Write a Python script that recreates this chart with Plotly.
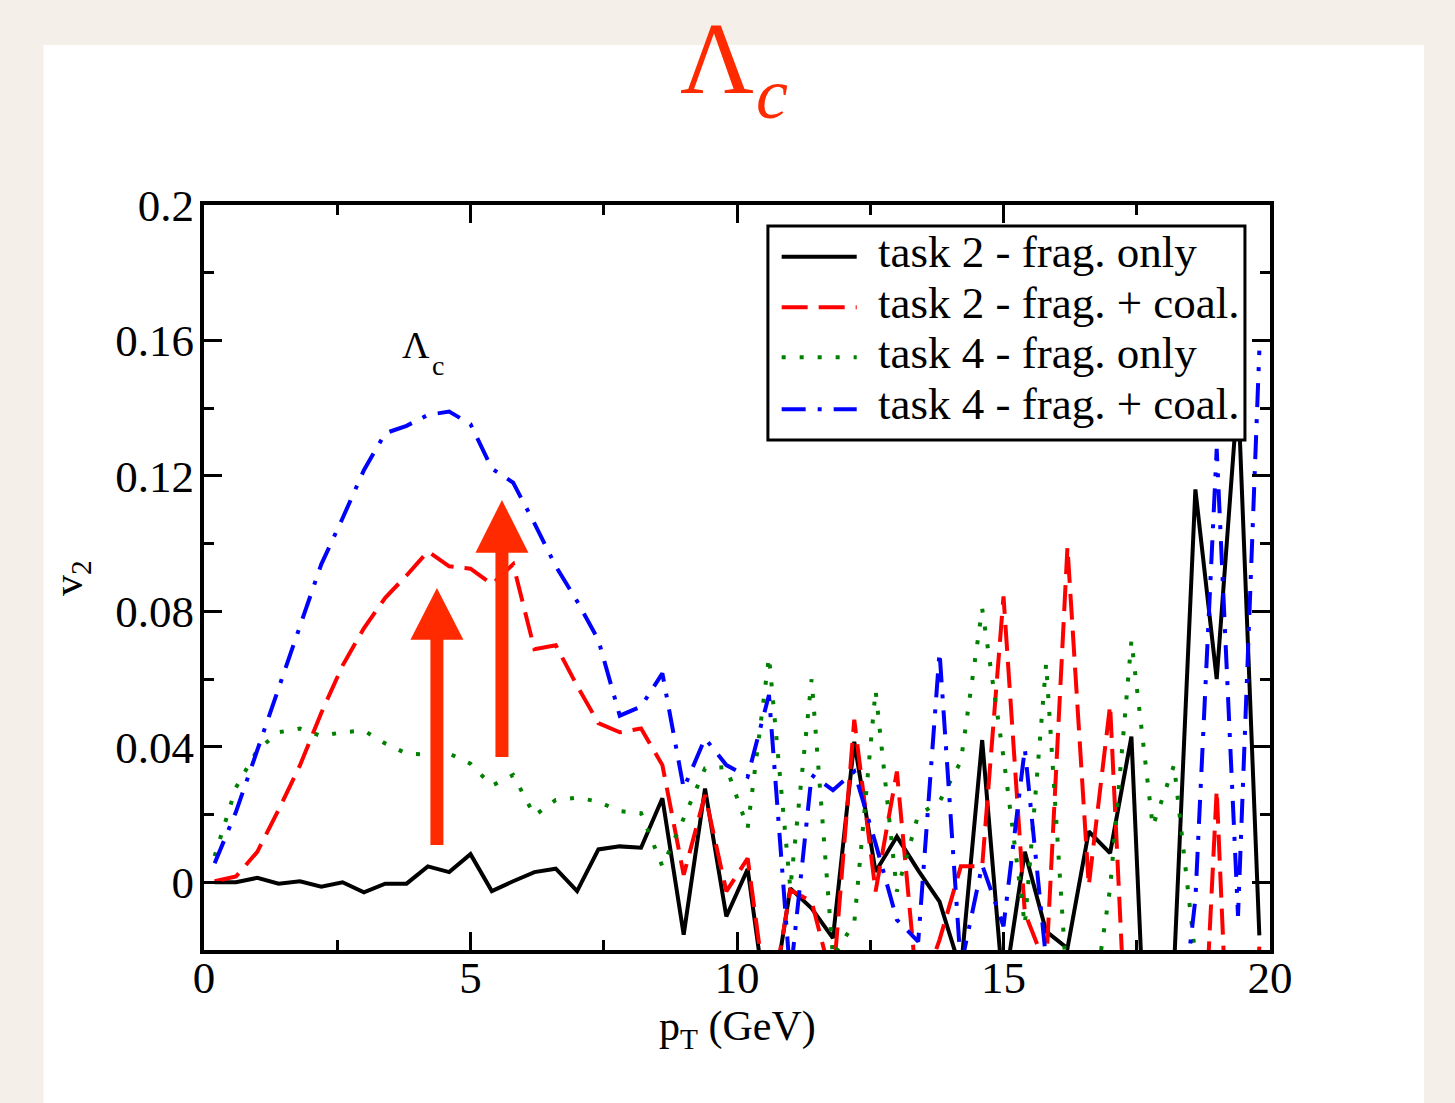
import plotly.graph_objects as go

# ---------------- data ----------------
pt = [0.2, 0.6, 1.0, 1.4, 1.8, 2.2, 2.6, 3.0, 3.4, 3.8,
      4.2, 4.6, 5.0, 5.4, 5.8, 6.2, 6.6, 7.0, 7.4, 7.8,
      8.2, 8.6, 9.0, 9.4, 9.8, 10.2, 10.6, 11.0, 11.4, 11.8,
      12.2, 12.6, 13.0, 13.4, 13.8, 14.2, 14.6, 15.0, 15.4, 15.8,
      16.2, 16.6, 17.0, 17.4, 17.8, 18.2, 18.6, 19.0, 19.4, 19.8]

task2_frag = [0.0, 0.0, 0.0013, -0.0004, 0.0003, -0.0013, 0.0, -0.003, -0.0004, -0.0004,
              0.0047, 0.003, 0.0083, -0.0026, 0.0003, 0.003, 0.004, -0.0026, 0.0097, 0.0106,
              0.0102, 0.0248, -0.0155, 0.0277, -0.0101, 0.0039, -0.042, -0.0018, -0.0077, -0.0165,
              0.0415, 0.0031, 0.0135, 0.0035, -0.0057, -0.026, 0.042, -0.033, 0.009, -0.0145,
              -0.0195, 0.015, 0.0086, 0.043, -0.1, -0.025, 0.116, 0.060, 0.145, -0.0157]

task2_coal = [0.0003, 0.0017, 0.009, 0.0214, 0.0345, 0.050, 0.064, 0.075, 0.084, 0.0906,
              0.0977, 0.0933, 0.0926, 0.088, 0.0939, 0.0688, 0.070, 0.058, 0.047, 0.0443,
              0.0454, 0.0346, 0.0022, 0.0258, -0.0027, 0.0071, -0.04, -0.0023, -0.0057, -0.03,
              0.048, -0.0027, 0.0327, -0.035, -0.017, 0.0047, 0.0047, 0.0844, -0.009, -0.025,
              0.099, -0.001, 0.0523, -0.08, -0.06, -0.06, -0.1, 0.0272, -0.12, -0.019]

task4_frag = [0.0077, 0.028, 0.039, 0.0443, 0.0454, 0.0432, 0.0443, 0.0448, 0.041, 0.038,
              0.0377, 0.038, 0.035, 0.0285, 0.0317, 0.0197, 0.0243, 0.025, 0.0238, 0.021,
              0.0204, 0.0047, 0.0189, 0.0336, 0.034, 0.016, 0.0666, -0.0018, 0.060, -0.022,
              -0.012, 0.0567, -0.0027, 0.0199, 0.0238, 0.0357, 0.0808, 0.037, -0.0126, 0.0646,
              -0.033, -0.045, -0.0018, 0.0714, 0.0165, 0.0346, -0.022, -0.04, -0.05, -0.03]

task4_coal = [0.0056, 0.0208, 0.039, 0.0574, 0.0754, 0.0939, 0.1075, 0.1217, 0.1326, 0.1348,
              0.138, 0.139, 0.1353, 0.1222, 0.118, 0.106, 0.0933, 0.083, 0.0715, 0.0492,
              0.0519, 0.0617, 0.0277, 0.0425, 0.0346, 0.0312, 0.0553, -0.028, 0.0317, 0.0272,
              0.0327, 0.0115, -0.0111, -0.0175, 0.068, -0.025, 0.0051, -0.013, 0.0395, -0.023,
              -0.05, -0.05, -0.05, -0.05, -0.05, -0.06, -0.005, 0.128, -0.0099, 0.157]

series_names = ["task 2 - frag. only", "task 2 - frag. + coal.",
                "task 4 - frag. only", "task 4 - frag. + coal."]
series_values = [task2_frag, task2_coal, task4_frag, task4_coal]
series_colors = ["#000000", "#FF0000", "#008000", "#0000FF"]
series_dash = ["solid", "26px,11px", "4px,14px", "24px,12px,4px,12px"]

x_ticks = [0, 5, 10, 15, 20]
y_ticks = [0, 0.04, 0.08, 0.12, 0.16, 0.2]
y_tick_text = ["0", "0.04", "0.08", "0.12", "0.16", "0.2"]

ACCENT = "#FF2A00"
SERIF = "Liberation Serif"

fig = go.Figure()
for name, vals, col, dash in zip(series_names, series_values, series_colors, series_dash):
    fig.add_trace(go.Scatter(x=pt, y=vals, mode="lines", name=name, showlegend=False,
                             line=dict(color=col, width=4, dash=dash)))

shapes = []
# white panel on beige page
shapes.append(dict(type="rect", xref="paper", yref="paper", layer="below",
                   x0=-0.1505, x1=1.1445, y0=-0.22, y1=1.2148,
                   fillcolor="white", line=dict(width=0)))

# arrows (data coords)
def arrow(xc, ybot, ybase, ytip, shaft_hw, head_hw):
    path = (f"M {xc-shaft_hw},{ybot} L {xc+shaft_hw},{ybot} L {xc+shaft_hw},{ybase} "
            f"L {xc+head_hw},{ybase} L {xc},{ytip} L {xc-head_hw},{ybase} "
            f"L {xc-shaft_hw},{ybase} Z")
    return dict(type="path", xref="x", yref="y", path=path, fillcolor=ACCENT,
                line=dict(width=0), layer="above")

shapes.append(arrow(4.37, 0.011, 0.0716, 0.0869, 0.122, 0.497))
shapes.append(arrow(5.59, 0.037, 0.0973, 0.1129, 0.122, 0.497))

# manual legend
lx0, lx1, ly0, ly1 = 0.529, 0.9765, 0.6846, 0.9718
shapes.append(dict(type="rect", xref="paper", yref="paper", x0=lx0, x1=lx1, y0=ly0, y1=ly1,
                   fillcolor="white", line=dict(color="black", width=3), layer="above"))
line_y = [0.9306, 0.8627, 0.7956, 0.7258]
text_y = [0.9372, 0.8690, 0.8008, 0.7326]
annotations = []
for i in range(4):
    shapes.append(dict(type="line", xref="paper", yref="paper", x0=0.5419, x1=0.6123,
                       y0=line_y[i], y1=line_y[i], layer="above",
                       line=dict(color=series_colors[i], width=4, dash=series_dash[i])))
    annotations.append(dict(xref="paper", yref="paper", x=0.6305, y=text_y[i],
                            xanchor="left", yanchor="middle", showarrow=False,
                            text=series_names[i],
                            font=dict(family=SERIF, size=45, color="black")))

# title  Λ_c
annotations.append(dict(xref="paper", yref="paper", x=(717 - 204) / 1066, y=(950 - 0.5) / 745,
                        xanchor="center", yanchor="top", showarrow=False, text="Λ",
                        font=dict(family=SERIF, size=102, color=ACCENT)))
annotations.append(dict(xref="paper", yref="paper", x=(772 - 204) / 1066, y=1.1494,
                        xanchor="center", yanchor="middle", showarrow=False, text="<i>c</i>",
                        font=dict(family=SERIF, size=72, color=ACCENT)))
# in-plot label
annotations.append(dict(xref="x", yref="y", x=3.98, y=0.1586, xanchor="center", yanchor="middle",
                        showarrow=False, text="Λ", font=dict(family=SERIF, size=38, color="black")))
annotations.append(dict(xref="x", yref="y", x=4.39, y=0.1526, xanchor="center", yanchor="middle",
                        showarrow=False, text="c", font=dict(family=SERIF, size=28, color="black")))
# axis titles
annotations.append(dict(xref="paper", yref="paper", x=(71 - 204) / 1066, y=(950 - 578) / 745,
                        xanchor="center", yanchor="middle", showarrow=False, textangle=-90,
                        text="v<sub>2</sub>", font=dict(family=SERIF, size=42, color="black")))
annotations.append(dict(xref="paper", yref="paper", x=0.5, y=(950 - 1029) / 745,
                        xanchor="center", yanchor="middle", showarrow=False,
                        text="p<sub>T</sub> (GeV)", font=dict(family=SERIF, size=42, color="black")))

axis_common = dict(showgrid=False, zeroline=False, showline=True, linecolor="black", linewidth=4,
                   mirror="ticks", ticks="inside", ticklen=18, tickwidth=3, tickcolor="black",
                   tickfont=dict(family=SERIF, size=45, color="black"))

fig.update_layout(
    width=1455, height=1103,
    margin=dict(l=204, r=185, t=205, b=153, pad=0),
    paper_bgcolor="#F4F0E9", plot_bgcolor="white",
    showlegend=False,
    shapes=shapes, annotations=annotations,
    xaxis=dict(range=[0, 20], tickvals=x_ticks, ticktext=[str(v) for v in x_ticks],
               minor=dict(dtick=2.5, tick0=0, ticks="inside", ticklen=10, tickwidth=3, tickcolor="black"),
               ticklabelstandoff=-15, **axis_common),
    yaxis=dict(range=[-0.02, 0.2], tickvals=y_ticks, ticktext=y_tick_text,
               minor=dict(dtick=0.02, tick0=0, ticks="inside", ticklen=10, tickwidth=3, tickcolor="black"),
               ticklabelstandoff=-3, **axis_common),
)

fig.write_html("out.html", config={"displayModeBar": False},
               post_script="document.body.style.margin='0';")
